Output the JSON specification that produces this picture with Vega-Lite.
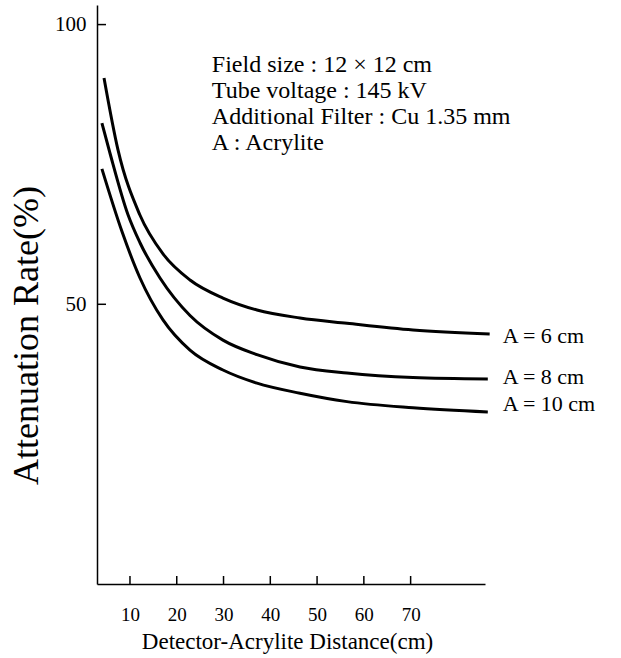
{
  "$schema": "https://vega.github.io/schema/vega-lite/v6.json",
  "width": 388,
  "height": 579,
  "autosize": {"type": "none"},
  "padding": {"left": 97, "top": 5, "right": 136, "bottom": 74},
  "config": {
    "view": {"stroke": null},
    "font": "Liberation Serif",
    "axis": {
      "grid": false,
      "ticks": false,
      "domainColor": "black",
      "domainWidth": 1.5,
      "labelColor": "black",
      "titleColor": "black",
      "labelFont": "Liberation Serif",
      "titleFont": "Liberation Serif",
      "titleFontWeight": "normal"
    }
  },
  "datasets": {
    "curves": [
      {"series": "A = 6 cm", "distance": 4.45, "rate": 90.45},
      {"series": "A = 6 cm", "distance": 7.44, "rate": 77.6},
      {"series": "A = 6 cm", "distance": 12.1, "rate": 66.0},
      {"series": "A = 6 cm", "distance": 17.06, "rate": 59.0},
      {"series": "A = 6 cm", "distance": 22.83, "rate": 54.34},
      {"series": "A = 6 cm", "distance": 29.88, "rate": 51.12},
      {"series": "A = 6 cm", "distance": 37.15, "rate": 48.98},
      {"series": "A = 6 cm", "distance": 46.35, "rate": 47.55},
      {"series": "A = 6 cm", "distance": 56.4, "rate": 46.6},
      {"series": "A = 6 cm", "distance": 70.5, "rate": 45.4},
      {"series": "A = 6 cm", "distance": 86.9, "rate": 44.7},
      {"series": "A = 8 cm", "distance": 4.0, "rate": 82.4},
      {"series": "A = 8 cm", "distance": 5.73, "rate": 77.0},
      {"series": "A = 8 cm", "distance": 9.58, "rate": 66.0},
      {"series": "A = 8 cm", "distance": 12.14, "rate": 61.0},
      {"series": "A = 8 cm", "distance": 16.42, "rate": 54.7},
      {"series": "A = 8 cm", "distance": 22.83, "rate": 48.0},
      {"series": "A = 8 cm", "distance": 29.88, "rate": 43.6},
      {"series": "A = 8 cm", "distance": 37.15, "rate": 41.0},
      {"series": "A = 8 cm", "distance": 46.35, "rate": 38.8},
      {"series": "A = 8 cm", "distance": 56.4, "rate": 37.7},
      {"series": "A = 8 cm", "distance": 70.5, "rate": 36.9},
      {"series": "A = 8 cm", "distance": 86.5, "rate": 36.65},
      {"series": "A = 10 cm", "distance": 4.0, "rate": 74.2},
      {"series": "A = 10 cm", "distance": 8.29, "rate": 63.0},
      {"series": "A = 10 cm", "distance": 12.14, "rate": 54.7},
      {"series": "A = 10 cm", "distance": 17.06, "rate": 47.2},
      {"series": "A = 10 cm", "distance": 22.83, "rate": 41.8},
      {"series": "A = 10 cm", "distance": 29.88, "rate": 38.25},
      {"series": "A = 10 cm", "distance": 37.15, "rate": 35.9},
      {"series": "A = 10 cm", "distance": 46.35, "rate": 34.1},
      {"series": "A = 10 cm", "distance": 56.4, "rate": 32.6},
      {"series": "A = 10 cm", "distance": 70.5, "rate": 31.5},
      {"series": "A = 10 cm", "distance": 86.5, "rate": 30.75}
    ],
    "labels": [
      {"label": "A = 6 cm", "distance": 89.7, "rate": 44.4},
      {"label": "A = 8 cm", "distance": 89.7, "rate": 37.0},
      {"label": "A = 10 cm", "distance": 89.7, "rate": 32.1}
    ],
    "xticks": [
      {"distance": 10}, {"distance": 20}, {"distance": 30}, {"distance": 40},
      {"distance": 50}, {"distance": 60}, {"distance": 70}
    ],
    "yticks": [
      {"rate": 50}, {"rate": 100}
    ]
  },
  "layer": [
    {
      "data": {"name": "curves"},
      "mark": {"type": "line", "interpolate": "monotone", "color": "black", "strokeWidth": 3, "clip": false},
      "encoding": {
        "x": {
          "field": "distance",
          "type": "quantitative",
          "scale": {"domain": [2.95, 85.9], "nice": false, "zero": false},
          "axis": {
            "values": [10, 20, 30, 40, 50, 60, 70],
            "title": "Detector-Acrylite Distance(cm)",
            "labelFontSize": 19,
            "labelPadding": 21,
            "titleFontSize": 23,
            "titleX": 190,
            "titleY": 64,
            "titleAlign": "center",
            "titleBaseline": "alphabetic"
          }
        },
        "y": {
          "field": "rate",
          "type": "quantitative",
          "scale": {"domain": [0, 103.5], "nice": false},
          "axis": {
            "values": [50, 100],
            "title": "Attenuation Rate(%)",
            "labelFontSize": 21,
            "labelPadding": 11,
            "titleFontSize": 36,
            "titleX": -60,
            "titleY": 330,
            "titleAngle": -90,
            "titleAlign": "center",
            "titleBaseline": "alphabetic"
          }
        },
        "detail": {"field": "series"}
      }
    },
    {
      "data": {"name": "xticks"},
      "mark": {"type": "rule", "color": "black", "strokeWidth": 1.5},
      "encoding": {
        "x": {"field": "distance", "type": "quantitative"},
        "y": {"datum": 0, "type": "quantitative"},
        "y2": {"datum": 1.43}
      }
    },
    {
      "data": {"name": "yticks"},
      "mark": {"type": "rule", "color": "black", "strokeWidth": 1.5},
      "encoding": {
        "y": {"field": "rate", "type": "quantitative"},
        "x": {"datum": 2.95, "type": "quantitative"},
        "x2": {"datum": 4.87}
      }
    },
    {
      "data": {"name": "labels"},
      "mark": {"type": "text", "align": "left", "baseline": "middle", "fontSize": 22, "font": "Liberation Serif", "color": "black"},
      "encoding": {
        "x": {"field": "distance", "type": "quantitative"},
        "y": {"field": "rate", "type": "quantitative"},
        "text": {"field": "label"}
      }
    },
    {
      "data": {"values": [{}]},
      "mark": {
        "type": "text",
        "text": ["Field size : 12 × 12 cm", "Tube voltage : 145 kV", "Additional Filter : Cu 1.35 mm", "A : Acrylite"],
        "lineHeight": 26,
        "align": "left",
        "baseline": "alphabetic",
        "fontSize": 24,
        "font": "Liberation Serif",
        "color": "black"
      },
      "encoding": {
        "x": {"datum": 27.5, "type": "quantitative"},
        "y": {"datum": 91.5, "type": "quantitative"}
      }
    }
  ]
}
